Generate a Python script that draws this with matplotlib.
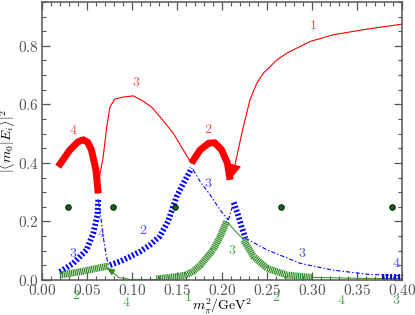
import numpy as np
import matplotlib
matplotlib.use('Agg')
import matplotlib.pyplot as plt
from matplotlib.ticker import MultipleLocator, FuncFormatter

plt.rcParams['mathtext.fontset'] = 'cm'
plt.rcParams['lines.scale_dashes'] = False

# ---- data ----
# red curves
red4_x = [0.018, 0.031, 0.040, 0.046, 0.051, 0.055, 0.060, 0.0625]
red4_y = [0.387, 0.444, 0.472, 0.479, 0.470, 0.444, 0.376, 0.296]
red3_x = [0.0625, 0.064, 0.068, 0.072, 0.0756, 0.081, 0.09, 0.1015, 0.112, 0.122, 0.131, 0.146, 0.157, 0.166]
red3_y = [0.296, 0.353, 0.42, 0.524, 0.592, 0.618, 0.625, 0.629, 0.612, 0.59, 0.558, 0.501, 0.444, 0.399]
red2_x = [0.166, 0.1756, 0.185, 0.192, 0.1996, 0.206, 0.209]
red2_y = [0.399, 0.444, 0.467, 0.469, 0.444, 0.399, 0.342]
red1_x = [0.2144, 0.2237, 0.231, 0.2385, 0.246, 0.253, 0.261, 0.272, 0.283, 0.298, 0.324, 0.361, 0.40]
red1_y = [0.395, 0.524, 0.615, 0.672, 0.707, 0.728, 0.752, 0.775, 0.792, 0.815, 0.838, 0.857, 0.874]

# blue curves
blue3a_x = [0.02, 0.0348, 0.0496, 0.057, 0.0615, 0.0626]
blue3a_y = [0.028, 0.057, 0.103, 0.16, 0.22, 0.275]
blue4a_x = [0.0626, 0.0644, 0.068, 0.071, 0.0737]
blue4a_y = [0.275, 0.239, 0.15, 0.09, 0.051]
blue2_x = [0.0756, 0.087, 0.098, 0.11, 0.12, 0.131, 0.14, 0.1496, 0.157, 0.1663]
blue2_y = [0.051, 0.064, 0.08, 0.099, 0.12, 0.15, 0.2, 0.285, 0.33, 0.382]
blue3b_x = [0.168, 0.176, 0.187, 0.198, 0.207]
blue3b_y = [0.376, 0.335, 0.29, 0.239, 0.205]
blue4b_thin_x = [0.207, 0.213]
blue4b_thin_y = [0.205, 0.265]
blue4b_x = [0.213, 0.218, 0.222, 0.226]
blue4b_y = [0.265, 0.22, 0.18, 0.143]
blue3c_x = [0.226, 0.25, 0.287, 0.323, 0.361, 0.40]
blue3c_y = [0.143, 0.103, 0.057, 0.034, 0.02, 0.014]
blue4c_x = [0.378, 0.40]
blue4c_y = [0.012, 0.012]

# green curves
green2_x = [0.02, 0.042, 0.061, 0.0737]
green2_y = [0.017, 0.028, 0.04, 0.048]
green4_x = [0.0756, 0.085, 0.098, 0.127]
green4_y = [0.034, 0.009, 0.002, 0.002]
green1_x = [0.127, 0.15, 0.16, 0.168, 0.176, 0.19, 0.198, 0.205]
green1_y = [0.004, 0.012, 0.017, 0.03, 0.051, 0.103, 0.148, 0.2]
green1t_x = [0.205, 0.224]
green1t_y = [0.2, 0.137]
green3_x = [0.224, 0.235, 0.25, 0.272, 0.30]
green3_y = [0.137, 0.08, 0.04, 0.017, 0.009]
green3t_x = [0.30, 0.35, 0.40]
green3t_y = [0.009, 0.006, 0.005]

# dots
dot_x = [0.0285, 0.0785, 0.148, 0.2656, 0.389]
dot_y = [0.25, 0.25, 0.25, 0.25, 0.25]

# labels (text, x, y)
red_lab = [('1', 0.301, 0.872), ('2', 0.185, 0.516), ('3', 0.1044, 0.678), ('4', 0.0348, 0.513)]
blue_lab = [('3', 0.035, 0.091), ('4', 0.066, 0.16), ('2', 0.1126, 0.171),
            ('3', 0.185, 0.33), ('3', 0.289, 0.091), ('4', 0.394, 0.059)]
green_lab = [('2', 0.0385, -0.051), ('4', 0.094, -0.074), ('1', 0.1626, -0.057),
             ('3', 0.211, 0.103), ('2', 0.26, -0.057), ('4', 0.333, -0.068), ('3', 0.393, -0.068)]

red = '#ff0000'; blue = '#0000ff'; green = '#2e8b22'

fig = plt.figure(figsize=(4.15, 3.15), dpi=100)
ax = fig.add_axes([0.101, 0.111, 0.868, 0.883])

# thin lines
ax.plot(red3_x, red3_y, color=red, lw=0.8)
ax.plot(red1_x, red1_y, color=red, lw=0.8)
thin_dd = (0, (3, 1.5, 1, 1.5))
ax.plot(blue4a_x, blue4a_y, color=blue, lw=0.8, ls=thin_dd)
ax.plot(blue3b_x, blue3b_y, color=blue, lw=0.8, ls=thin_dd)
ax.plot(blue4b_thin_x, blue4b_thin_y, color=blue, lw=0.8, ls=thin_dd)
ax.plot(blue3c_x, blue3c_y, color=blue, lw=0.8, ls=thin_dd)
ax.plot(green4_x, green4_y, color=green, lw=0.7)
ax.plot(green1t_x, green1t_y, color=green, lw=0.7)
ax.plot(green3t_x, green3t_y, color=green, lw=0.7)

# thick lines
ax.plot(red4_x, red4_y, color=red, lw=5, solid_capstyle='butt')
ax.plot(red2_x, red2_y, color=red, lw=5, solid_capstyle='butt')
thick_b = (0, (1.4, 1.5))
for bx, by in [(blue3a_x, blue3a_y), (blue2_x, blue2_y), (blue4b_x, blue4b_y), (blue4c_x, blue4c_y)]:
    ax.plot(bx, by, color=blue, lw=4.2, ls=thick_b, dash_capstyle='butt')
thick_g = (0, (0.9, 0.45))
for gx, gy in [(green2_x, green2_y), (green1_x, green1_y), (green3_x, green3_y)]:
    ax.plot(gx, gy, color=green, lw=5, ls=thick_g, dash_capstyle='butt')

# arrows
ax.annotate('', xy=(red2_x[-1], red2_y[-1] - 0.005), xytext=(red1_x[0], red1_y[0]),
            arrowprops=dict(arrowstyle='-|>,head_length=0.9,head_width=0.4', color=red, lw=0.8))
ax.annotate('', xy=(green2_x[-1] - 0.002, green2_y[-1] - 0.006), xytext=(green4_x[0], green4_y[0]),
            arrowprops=dict(arrowstyle='-|>,head_length=0.5,head_width=0.2', color=green, lw=0.7))

ax.plot(dot_x, dot_y, 'o', color='#0b6b0b', mec='black', mew=0.6, ms=4, zorder=5)

for t, x, y in red_lab:
    ax.text(x, y, '$' + t + '$', color='#ff4a4a', fontsize=10, ha='center', va='center')
for t, x, y in blue_lab:
    ax.text(x, y, '$' + t + '$', color='#4a4aff', fontsize=10, ha='center', va='center')
for t, x, y in green_lab:
    ax.text(x, y, '$' + t + '$', color='#4aa54a', fontsize=10, ha='center', va='center', clip_on=False)

ax.set_xlim(0, 0.40)
ax.set_ylim(0, 0.95)
ax.xaxis.set_major_locator(MultipleLocator(0.05))
ax.xaxis.set_minor_locator(MultipleLocator(0.01))
ax.yaxis.set_major_locator(MultipleLocator(0.2))
ax.yaxis.set_minor_locator(MultipleLocator(0.05))
ax.xaxis.set_major_formatter(FuncFormatter(lambda v, p: '$%.2f$' % v))
ax.yaxis.set_major_formatter(FuncFormatter(lambda v, p: '$%.1f$' % v))
ax.tick_params(which='both', direction='in', top=True, right=True, color='#555555', labelsize=11, labelcolor='#555555')
ax.tick_params(which='major', length=6, width=0.9, pad=2)
ax.tick_params(which='minor', length=3, width=0.8)
for s in ax.spines.values():
    s.set_color('#555555'); s.set_linewidth(1.1)

ax.set_xlabel(r'$m_\pi^2/\mathrm{GeV}^2$', fontsize=10)
ax.xaxis.set_label_coords(0.5, -0.058)
ax.set_ylabel(r'$|\langle m_0|E_i\rangle|^2$', fontsize=10)
ax.yaxis.set_label_coords(-0.068, 0.5)

plt.savefig('out.png', dpi=100)
